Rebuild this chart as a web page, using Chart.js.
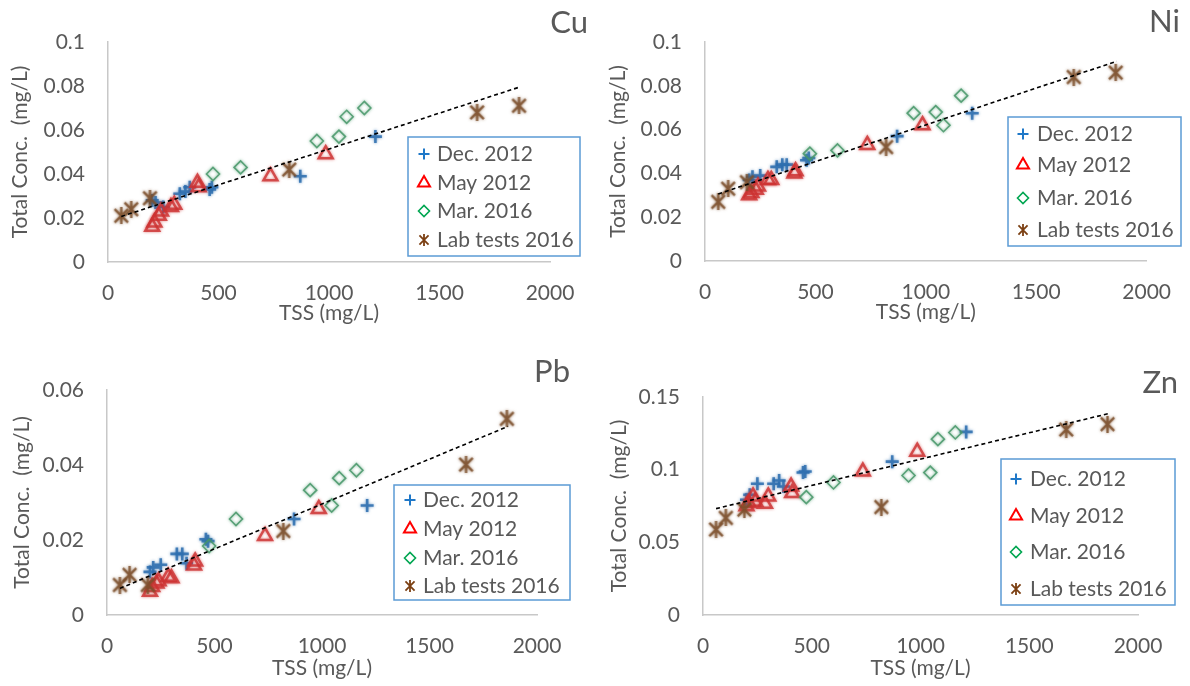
<!DOCTYPE html>
<html>
<head>
<meta charset="utf-8">
<script src="https://cdn.jsdelivr.net/npm/chart.js@4.4.0/dist/chart.umd.min.js"></script>
<style>
  html, body { margin: 0; padding: 0; background: #fff; }
  #wrap { position: relative; width: 1190px; height: 686px; }
  #wrap canvas { position: absolute; }
</style>
</head>
<body>
<div id="wrap">
  <canvas id="cu" width="595" height="343" style="left:0;top:0"></canvas>
  <canvas id="ni" width="595" height="343" style="left:595px;top:0"></canvas>
  <canvas id="pb" width="595" height="343" style="left:0;top:343px"></canvas>
  <canvas id="zn" width="595" height="343" style="left:595px;top:343px"></canvas>
</div>
<script>
// sampling campaigns
const seriesNames = ['Dec. 2012', 'May 2012', 'Mar. 2016', 'Lab tests 2016'];

// TSS (mg/L) of each sample, per campaign
const tssDec = [200, 215, 250, 325, 350, 370, 460, 470, 870, 1210];
const tssMay = [200, 210, 230, 240, 285, 300, 405, 410, 735, 985];
const tssMar = [475, 600, 945, 1045, 1080, 1160];
const tssLab = [60, 105, 190, 820, 1670, 1860];

// total concentrations (mg/L)
const cuDec = [0.028, 0.027, 0.025, 0.031, 0.032, 0.034, 0.033, 0.034, 0.039, 0.057];
const cuMay = [0.016, 0.018, 0.021, 0.023, 0.025, 0.026, 0.036, 0.034, 0.039, 0.049];
const cuMar = [0.040, 0.043, 0.055, 0.057, 0.066, 0.070];
const cuLab = [0.021, 0.024, 0.029, 0.042, 0.068, 0.071];

const niDec = [0.037, 0.0385, 0.039, 0.043, 0.044, 0.044, 0.046, 0.047, 0.057, 0.0675];
const niMay = [0.030, 0.031, 0.0325, 0.034, 0.037, 0.037, 0.040, 0.041, 0.053, 0.062];
const niMar = [0.049, 0.0505, 0.0675, 0.068, 0.062, 0.0755];
const niLab = [0.027, 0.033, 0.036, 0.052, 0.084, 0.086];

const pbDec = [0.0115, 0.0127, 0.0134, 0.0163, 0.0163, 0.0138, 0.0202, 0.0197, 0.0256, 0.0292];
const pbMay = [0.0062, 0.0075, 0.0084, 0.009, 0.0102, 0.0098, 0.0132, 0.0143, 0.0211, 0.0283];
const pbMar = [0.0184, 0.0256, 0.0333, 0.0292, 0.0365, 0.0386];
const pbLab = [0.008, 0.0107, 0.008, 0.0224, 0.0401, 0.0523];

const znDec = [0.0793, 0.0827, 0.0903, 0.0903, 0.0925, 0.0884, 0.098, 0.0987, 0.1055, 0.126];
const znMay = [0.0748, 0.077, 0.0816, 0.078, 0.0765, 0.0816, 0.0884, 0.0839, 0.0987, 0.1124];
const znMar = [0.0811, 0.0912, 0.096, 0.098, 0.121, 0.1256];
const znLab = [0.0588, 0.0668, 0.0725, 0.0743, 0.1276, 0.1313];

// linear trend line ends
const trendTss = [60, 1865];
const cuTrend = [0.0207, 0.0796];
const niTrend = [0.0306, 0.0912];
const pbTrend = [0.0071, 0.0503];
const znTrend = [0.0732, 0.1386];

// y axis range per metal
const yMax = [0.1, 0.1, 0.06, 0.15];
const yStep = [0.02, 0.02, 0.02, 0.05];

const FONT = 'Lato, Carlito, Calibri, sans-serif';
const GREY = '#595959';
const TEXT = 21;

// asterisk marker: an X crossed by a vertical stroke
function asterisk(color, size, lw) {
    const c = document.createElement('canvas');
    c.width = c.height = size;
    const g = c.getContext('2d');
    g.strokeStyle = color;
    g.lineWidth = lw;
    const a = lw * 0.8, b = size - lw * 0.8;
    g.beginPath();
    g.moveTo(a, a); g.lineTo(b, b);
    g.moveTo(b, a); g.lineTo(a, b);
    g.moveTo(size / 2, 0); g.lineTo(size / 2, size);
    g.stroke();
    return c;
}

const markStyles = [
    { pointStyle: 'cross', radius: 6.5, borderWidth: 2.6, color: 'rgba(46,110,175,0.85)', key: '#1f78c8', keyRadius: 5.5, keyWidth: 2 },
    { pointStyle: 'triangle', radius: 8, borderWidth: 2.5, color: 'rgba(205,50,50,0.8)', key: '#ff0000', keyRadius: 7, keyWidth: 2 },
    { pointStyle: 'rectRot', radius: 6.5, borderWidth: 1.6, color: 'rgba(70,150,105,0.85)', key: '#00a651', keyRadius: 5.5, keyWidth: 1.6 },
    { pointStyle: asterisk('rgba(125,80,45,0.85)', 17, 2.3), radius: 8, borderWidth: 0, color: 'rgba(125,80,45,0.85)', key: '#7b3f12', keyRadius: 6, keyWidth: 0, keyImage: asterisk('#7b3f12', 12, 1.8) }
];

// soft edge round the plotted markers
const softMarks = {
    id: 'softMarks',
    beforeDatasetDraw(chart, args) {
        const ctx = chart.ctx;
        ctx.save();
        if (args.meta.label !== 'trend') {
            ctx.shadowColor = args.meta._dataset.borderColor;
            ctx.shadowBlur = 3;
        }
    },
    afterDatasetDraw(chart) {
        chart.ctx.restore();
    }
};

// metal name and boxed legend inside each panel
const panelDecor = {
    id: 'panelDecor',
    afterDraw(chart, args, o) {
        const ctx = chart.ctx;
        ctx.save();
        ctx.fillStyle = GREY;
        ctx.font = '31px ' + FONT;
        ctx.textAlign = 'right';
        ctx.textBaseline = 'alphabetic';
        ctx.fillText(o.title, o.titleX, o.titleY);

        const L = o.legend;
        ctx.fillStyle = '#fff';
        ctx.fillRect(L.x, L.y, L.w, L.h);
        ctx.strokeStyle = '#5b9bd5';
        ctx.lineWidth = 1.5;
        ctx.strokeRect(L.x, L.y, L.w, L.h);

        ctx.font = TEXT + 'px ' + FONT;
        ctx.textAlign = 'left';
        ctx.textBaseline = 'middle';
        seriesNames.forEach((name, i) => {
            const m = markStyles[i];
            const y = L.rows[i];
            ctx.strokeStyle = m.key;
            ctx.fillStyle = 'rgba(0,0,0,0)';
            ctx.lineWidth = m.keyWidth;
            Chart.helpers.drawPoint(ctx, {
                pointStyle: m.keyImage || m.pointStyle,
                radius: m.keyRadius,
                borderWidth: m.keyWidth,
                rotation: 0
            }, L.mx, y + 1);
            ctx.fillStyle = GREY;
            ctx.fillText(name, L.tx, y + 1);
        });
        ctx.restore();
    }
};

function points(tss, conc) {
    return tss.map((x, i) => ({ x: x, y: conc[i] }));
}

const panels = [
    { id: 'cu', name: 'Cu', conc: [cuDec, cuMay, cuMar, cuLab], trend: cuTrend,
      left: 108, right: 45, top: 42, bottom: 81, yTitle: 8, xTitle: 17, titleX: 588, titleY: 33,
      legend: { x: 408, y: 137, w: 172, h: 119, rows: [153, 182, 210, 239], mx: 424, tx: 437 } },
    { id: 'ni', name: 'Ni', conc: [niDec, niMay, niMar, niLab], trend: niTrend,
      left: 110, right: 40, top: 42, bottom: 82, yTitle: 11, xTitle: 18, titleX: 585, titleY: 32,
      legend: { x: 413, y: 117, w: 173, h: 129, rows: [133, 164, 197, 229], mx: 428, tx: 442 } },
    { id: 'pb', name: 'Pb', conc: [pbDec, pbMay, pbMar, pbLab], trend: pbTrend,
      left: 107, right: 58, top: 47, bottom: 71, yTitle: 10, xTitle: 5, titleX: 570, titleY: 39,
      legend: { x: 394, y: 142, w: 176, h: 115, rows: [156, 185, 214, 242], mx: 410, tx: 423 } },
    { id: 'zn', name: 'Zn', conc: [znDec, znMay, znMar, znLab], trend: znTrend,
      left: 108, right: 52, top: 54, bottom: 71, yTitle: 12, xTitle: 5, titleX: 583, titleY: 50,
      legend: { x: 406, y: 116, w: 174, h: 146, rows: [135, 172, 208, 245], mx: 421, tx: 435 } }
];

const tssLists = [tssDec, tssMay, tssMar, tssLab];

panels.forEach((p, k) => {
    const datasets = [{
        label: 'trend',
        type: 'line',
        data: points(trendTss, p.trend),
        borderColor: '#000',
        borderWidth: 1.6,
        borderDash: [4, 3],
        pointRadius: 0,
        fill: false,
        order: 0
    }];
    seriesNames.forEach((name, i) => {
        const m = markStyles[i];
        datasets.push({
            label: name,
            data: points(tssLists[i], p.conc[i]),
            pointStyle: m.pointStyle,
            pointRadius: m.radius,
            pointBorderWidth: m.borderWidth,
            borderColor: m.color,
            backgroundColor: 'rgba(0,0,0,0)',
            order: 4 - i
        });
    });

    new Chart(document.getElementById(p.id), {
        type: 'scatter',
        data: { datasets: datasets },
        options: {
            responsive: false,
            animation: false,
            layout: { padding: { left: 0, right: p.right, top: p.top, bottom: 0 } },
            plugins: {
                legend: { display: false },
                tooltip: { enabled: false },
                panelDecor: { title: p.name, titleX: p.titleX, titleY: p.titleY, legend: p.legend }
            },
            scales: {
                x: {
                    type: 'linear',
                    min: 0, max: 2000,
                    ticks: { stepSize: 500, padding: 19, color: GREY, font: { family: FONT, size: TEXT },
                             callback: v => String(v) },
                    grid: { drawOnChartArea: false, drawTicks: false },
                    border: { color: '#c8c8c8', width: 1.5 },
                    title: { display: true, text: 'TSS (mg/L)', color: GREY,
                             font: { family: FONT, size: TEXT }, padding: { top: 0, bottom: p.xTitle } },
                    afterFit: s => { s.height = p.bottom; }
                },
                y: {
                    min: 0, max: yMax[k],
                    ticks: { stepSize: yStep[k], padding: 23, color: GREY, font: { family: FONT, size: TEXT },
                             callback: v => String(+v.toFixed(3)) },
                    grid: { drawOnChartArea: false, drawTicks: false },
                    border: { color: '#c8c8c8', width: 1.5 },
                    title: { display: true, text: 'Total Conc.  (mg/L)', color: GREY,
                             font: { family: FONT, size: TEXT }, padding: { top: p.yTitle, bottom: 0 } },
                    afterFit: s => { s.width = p.left; }
                }
            }
        },
        plugins: [softMarks, panelDecor]
    });
});
</script>
</body>
</html>
